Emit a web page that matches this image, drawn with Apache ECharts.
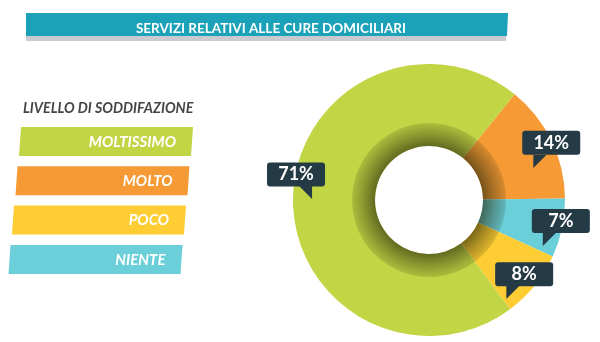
<!DOCTYPE html>
<html>
<head>
<meta charset="utf-8">
<script src="https://cdn.jsdelivr.net/npm/echarts@6/dist/echarts.min.js"></script>
<style>html,body{margin:0;padding:0;background:#fff}#c{width:600px;height:342px}</style>
</head>
<body>
<div id="c"></div>
<script>
// ---- data ----
const titleText = 'SERVIZI RELATIVI ALLE CURE DOMICILIARI';
const legendTitle = 'LIVELLO DI SODDIFAZIONE';
const legendCategories = ['MOLTISSIMO', 'MOLTO', 'POCO', 'NIENTE'];
const legendColors = ['#c2d545', '#f59a35', '#fdcd33', '#6acfd9'];
// slices in drawing order (clockwise from the top-right)
const sliceNames = ['MOLTO', 'NIENTE', 'POCO', 'MOLTISSIMO'];
const sliceValues = [14, 7, 8, 71];
const sliceColors = ['#f59a35', '#6acfd9', '#fdcd33', '#c2d545'];

// ---- layout ----
const CX = 429, CY = 200;
const labelShift = [[34, -8], [36, 7], [19, 19], [-35, -17]];
const tailLeft = [false, false, false, true];

const chart = echarts.init(document.getElementById('c'), null, {renderer: 'canvas'});

const pieData = sliceNames.map((n, i) => ({
  name: n, value: sliceValues[i], itemStyle: {color: sliceColors[i]}
}));

const boxColor = '#243a45';
const legendGraphics = [];
legendCategories.forEach((name, i) => {
  const top = 127 + i * 39.3;
  const x0 = 21 - i * 3.5;
  legendGraphics.push({
    type: 'polygon',
    shape: {points: [[x0, top], [x0 + 172, top], [x0 + 170, top + 29], [x0 - 2, top + 29]]},
    style: {fill: legendColors[i]}
  });
  legendGraphics.push({
    type: 'text',
    x: x0 + 155, y: top + 15,
    style: {text: name, fill: '#fff', font: 'italic bold 15px Lato', align: 'right', verticalAlign: 'middle'}
  });
});

chart.setOption({
  animation: false,
  title: {
    text: titleText,
    left: 266, top: 17, textAlign: 'center',
    textStyle: {color: '#fff', fontFamily: 'Lato', fontWeight: 'bold', fontSize: 13.5}
  },
  graphic: [
    {type: 'polygon', shape: {points: [[26, 19], [506, 19], [506, 41], [26, 41]]}, style: {fill: '#c9cbd0'}, z: -2},
    {type: 'polygon', shape: {points: [[26, 13], [508, 13], [507, 36], [26, 36]]}, style: {fill: '#1ba1b8'}, z: -1},
    {type: 'text', x: 23, y: 108,
     style: {text: legendTitle, fill: '#454545', font: 'italic bold 14.2px Lato', align: 'left', verticalAlign: 'middle'}},
    ...legendGraphics
  ],
  series: [
    {
      type: 'pie',
      center: [CX, CY],
      radius: [54, 136],
      startAngle: 51,
      clockwise: true,
      silent: true,
      data: pieData,
      label: {
        show: true,
        position: 'inside',
        formatter: (p) => {
          const i = p.dataIndex;
          return '{v|' + p.value + '%}\n' + (tailLeft[i] ? '{tr|◥}' : '{tl|◤}');
        },
        rich: {
          v: {color: '#fff', fontFamily: 'Lato', fontWeight: 'bold', fontSize: 18,
              backgroundColor: boxColor, borderRadius: 3, width: 58, height: 24,
              lineHeight: 24, align: 'center'},
          tl: {color: boxColor, fontFamily: 'DejaVu Sans', fontSize: 17, lineHeight: 13,
               align: 'left', padding: [0, 0, 0, 11]},
          tr: {color: boxColor, fontFamily: 'DejaVu Sans', fontSize: 17, lineHeight: 13,
               align: 'right', padding: [0, 13, 0, 0]}
        }
      },
      labelLayout: (p) => ({dx: labelShift[p.dataIndex][0], dy: labelShift[p.dataIndex][1]}),
      labelLine: {show: false},
      z: 2
    },
    {
      type: 'pie',
      center: [CX, CY],
      radius: [54, 77],
      startAngle: 51,
      clockwise: true,
      silent: true,
      data: sliceValues.map((v, i) => ({name: sliceNames[i], value: v})),
      itemStyle: {
        color: new echarts.graphic.RadialGradient(CX, CY, 77, [
          {offset: 0.70, color: 'rgba(40,40,10,0.62)'},
          {offset: 0.86, color: 'rgba(40,40,10,0.35)'},
          {offset: 1, color: 'rgba(40,40,10,0.14)'}
        ], true)
      },
      label: {show: false},
      labelLine: {show: false},
      z: 3
    }
  ]
});
</script>
</body>
</html>
